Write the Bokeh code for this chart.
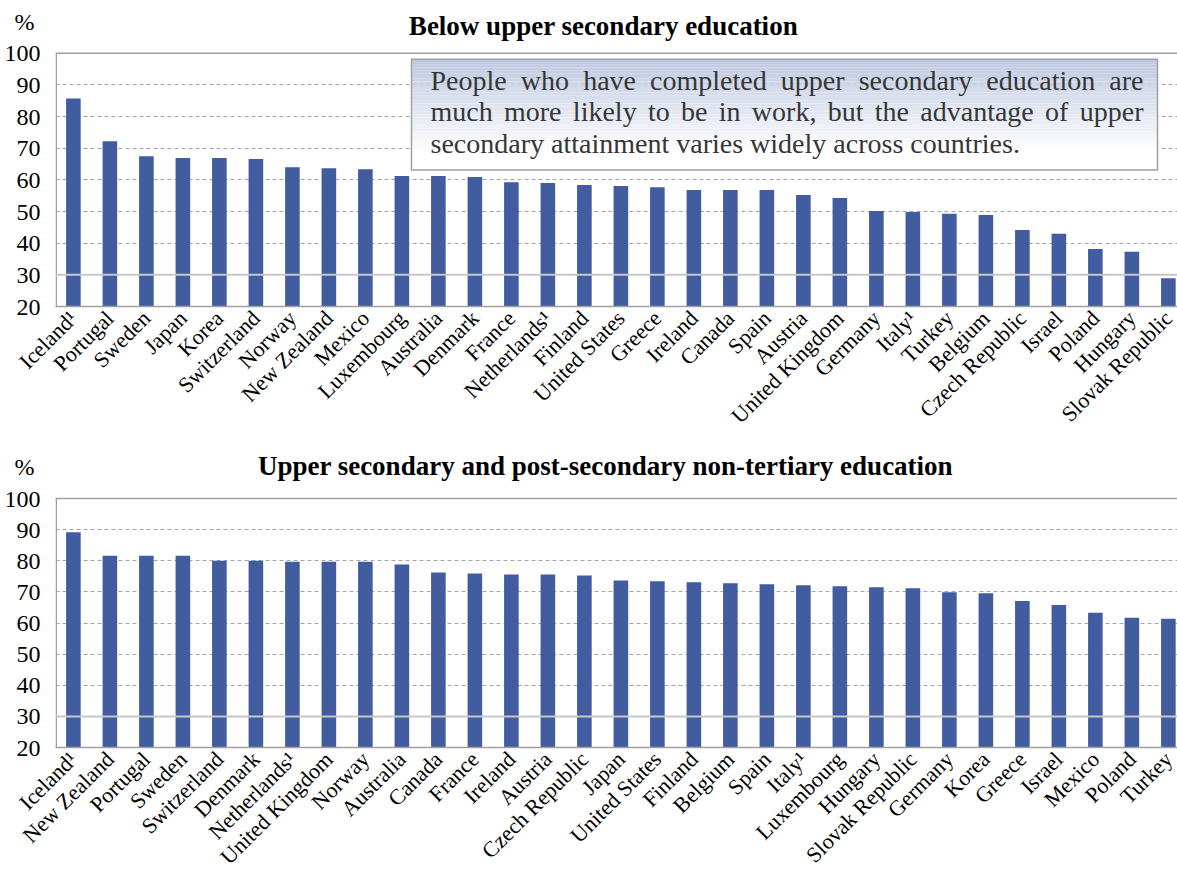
import math
from bokeh.plotting import figure
from bokeh.models import Range1d, FixedTicker, Span, Label, ColumnDataSource
from bokeh.layouts import column
from bokeh.embed import file_html
from bokeh.resources import INLINE
from bokeh.core.properties import value

# ---------------- data ----------------
below_countries = ["Iceland¹", "Portugal", "Sweden", "Japan", "Korea", "Switzerland", "Norway",
                   "New Zealand", "Mexico", "Luxembourg", "Australia", "Denmark", "France",
                   "Netherlands¹", "Finland", "United States", "Greece", "Ireland", "Canada",
                   "Spain", "Austria", "United Kingdom", "Germany", "Italy¹", "Turkey", "Belgium",
                   "Czech Republic", "Israel", "Poland", "Hungary", "Slovak Republic"]
below_values = [85.7, 72.2, 67.5, 66.9, 66.9, 66.6, 64.0, 63.7, 63.4, 61.2, 61.2, 60.9, 59.3,
                59.0, 58.4, 58.1, 57.7, 56.8, 56.8, 56.8, 55.2, 54.3, 50.2, 49.9, 49.3, 48.9,
                44.2, 43.0, 38.2, 37.3, 28.9]

upper_countries = ["Iceland¹", "New Zealand", "Portugal", "Sweden", "Switzerland", "Denmark",
                   "Netherlands¹", "United Kingdom", "Norway", "Australia", "Canada", "France",
                   "Ireland", "Austria", "Czech Republic", "Japan", "United States", "Finland",
                   "Belgium", "Spain", "Italy¹", "Luxembourg", "Hungary", "Slovak Republic",
                   "Germany", "Korea", "Greece", "Israel", "Mexico", "Poland", "Turkey"]
upper_values = [89.2, 81.6, 81.6, 81.6, 80.0, 80.0, 79.7, 79.7, 79.7, 78.8, 76.2, 75.9, 75.6,
                75.6, 75.3, 73.7, 73.4, 73.1, 72.8, 72.5, 72.1, 71.8, 71.5, 71.2, 69.9, 69.6,
                67.1, 65.8, 63.3, 61.7, 61.4]

y_ticks = [20, 30, 40, 50, 60, 70, 80, 90, 100]
grid_ticks = [40, 50, 60, 70, 80, 90]
unit_label = "%"

title_top = "Below upper secondary education"
title_bottom = "Upper secondary and post-secondary non-tertiary education"
note_lines = ["People who have completed upper secondary education are",
              "much more likely to be in work, but the advantage of upper",
              "secondary attainment varies widely across countries."]

# ---------------- style ----------------
FONT = "Liberation Serif"
BAR = "#415D9F"
GRID = "#a6a6a6"
AXIS = "#a0a0a0"
W = 1177
LEFT = 55
X0, X1 = -0.49, 30.25
PXU = (W - LEFT) / (X1 - X0)   # pixels per x unit
UNIT_POS = 110                 # axis position of the "%" unit label (above the 100 line)


def px2x(px):
    return X0 + px / PXU


# Times metrics (per em) for justification of the note text
TW = {' ': .25, ',': .25, '.': .25, 'a': .444, 'b': .5, 'c': .444, 'd': .5, 'e': .444, 'f': .333,
      'g': .5, 'h': .5, 'i': .278, 'j': .278, 'k': .5, 'l': .278, 'm': .778, 'n': .5, 'o': .5,
      'p': .5, 'q': .5, 'r': .333, 's': .389, 't': .278, 'u': .5, 'v': .5, 'w': .722, 'x': .5,
      'y': .5, 'z': .444, 'P': .556}


def word_w(w, fs):
    return sum(TW.get(c, .5) for c in w) * fs


def make_chart(countries, values, title, title_cx, height, top_px, bottom_border,
               with_note=False):
    frame_h = height - bottom_border
    ppv = (frame_h - top_px) / 80.0          # pixels per value unit
    ytop = 100 + top_px / ppv
    p = figure(width=W, height=height, x_range=Range1d(X0, X1), y_range=Range1d(20, ytop),
               output_backend="svg", toolbar_location=None,
               min_border_left=LEFT, min_border_right=0, min_border_top=0,
               min_border_bottom=bottom_border, outline_line_color=None)

    src = ColumnDataSource(dict(x=list(range(len(countries))), top=values))
    p.vbar(x="x", top="top", bottom=20, width=0.4, source=src, fill_color=BAR, line_color=None)

    # x axis
    p.xaxis.ticker = FixedTicker(ticks=list(range(len(countries))))
    p.xaxis.major_label_overrides = {i: c for i, c in enumerate(countries)}
    p.xaxis.major_label_orientation = math.pi / 4
    p.xaxis.major_label_text_font = FONT
    p.xaxis.major_label_text_font_size = "22px"
    p.xaxis.major_label_text_color = "black"
    p.xaxis.major_label_standoff = 2
    p.xaxis.major_tick_line_color = None
    p.xaxis.minor_tick_line_color = None
    p.xaxis.axis_line_color = AXIS
    p.xaxis.axis_line_width = 1.5

    # y axis (the "%" unit sits above the 100 tick)
    p.yaxis.ticker = FixedTicker(ticks=y_ticks + [UNIT_POS])
    p.yaxis.major_label_overrides = {UNIT_POS: unit_label + "\u00a0"}
    p.yaxis.major_label_text_font = FONT
    p.yaxis.major_label_text_font_size = "24px"
    p.yaxis.major_label_text_color = "black"
    p.yaxis.major_label_standoff = 9
    p.yaxis.major_tick_line_color = None
    p.yaxis.minor_tick_line_color = None
    p.yaxis.axis_line_color = None

    p.xgrid.grid_line_color = None
    p.ygrid.ticker = FixedTicker(ticks=grid_ticks)
    p.ygrid.grid_line_color = GRID
    p.ygrid.grid_line_dash = "4 3"
    p.ygrid.grid_line_width = 1

    # plot-area borders: left edge, top edge, and the solid line at 30
    p.segment(x0=[X0 + 0.75 / PXU], y0=[20], x1=[X0 + 0.75 / PXU], y1=[100],
              line_color=AXIS, line_width=1.5)
    p.add_layout(Span(location=100, dimension="width", line_color=AXIS, line_width=1.5))
    p.add_layout(Span(location=30, dimension="width", line_color="#c8c8c8", line_width=2))

    # chart title
    p.add_layout(Label(x=px2x(title_cx - LEFT), y=100 + (top_px - 26) / ppv, text=title,
                       text_font=FONT, text_font_size="27px", text_font_style="bold",
                       text_align="center", text_baseline="middle", text_color="black"))

    if with_note:
        bl, br = px2x(411 - LEFT), px2x(1157 - LEFT)
        btop, bbot = 100 - 6 / ppv, 100 - 117 / ppv
        n = 40
        c0 = (190, 200, 224)
        lefts, rights, tops, bots, cols = [], [], [], [], []
        for i in range(n):
            t = i / (n - 1)
            f = min(1.0, t / 0.85)
            col = tuple(int(round(c0[k] + (255 - c0[k]) * f)) for k in range(3))
            lefts.append(bl)
            rights.append(br)
            tops.append(btop - (btop - bbot) * i / n)
            bots.append(btop - (btop - bbot) * (i + 1) / n)
            cols.append("#%02x%02x%02x" % col)
        p.quad(left=lefts, right=rights, top=tops, bottom=bots, fill_color=cols, line_color=None)
        p.quad(left=[bl], right=[br], top=[btop], bottom=[bbot], fill_alpha=0,
               line_color="#a0a0a0", line_width=1.5)

        fs = 28
        tx0, tx1 = 430 - LEFT, 1143 - LEFT
        xs, ys, ws = [], [], []
        for li, line in enumerate(note_lines):
            words = line.split(" ")
            yv = 100 - (27 + 31.5 * li) / ppv
            widths = [word_w(w, fs) for w in words]
            if li < len(note_lines) - 1:
                gap = (tx1 - tx0 - sum(widths)) / (len(words) - 1)
            else:
                gap = TW[' '] * fs
            cx = tx0
            for w, ww in zip(words, widths):
                xs.append(px2x(cx))
                ys.append(yv)
                ws.append(w)
                cx += ww + gap
        p.text(x=xs, y=ys, text=ws, text_font=value(FONT), text_font_size="%dpx" % fs,
               text_align="left", text_baseline="middle", text_color="#363636")
    return p


p1 = make_chart(below_countries, below_values, title_top, 603, 440, 53, 133, with_note=True)
p2 = make_chart(upper_countries, upper_values, title_bottom, 605, 441, 59, 129)

layout = column(p1, p2, spacing=0)
open("out.html", "w").write(file_html(layout, INLINE))
